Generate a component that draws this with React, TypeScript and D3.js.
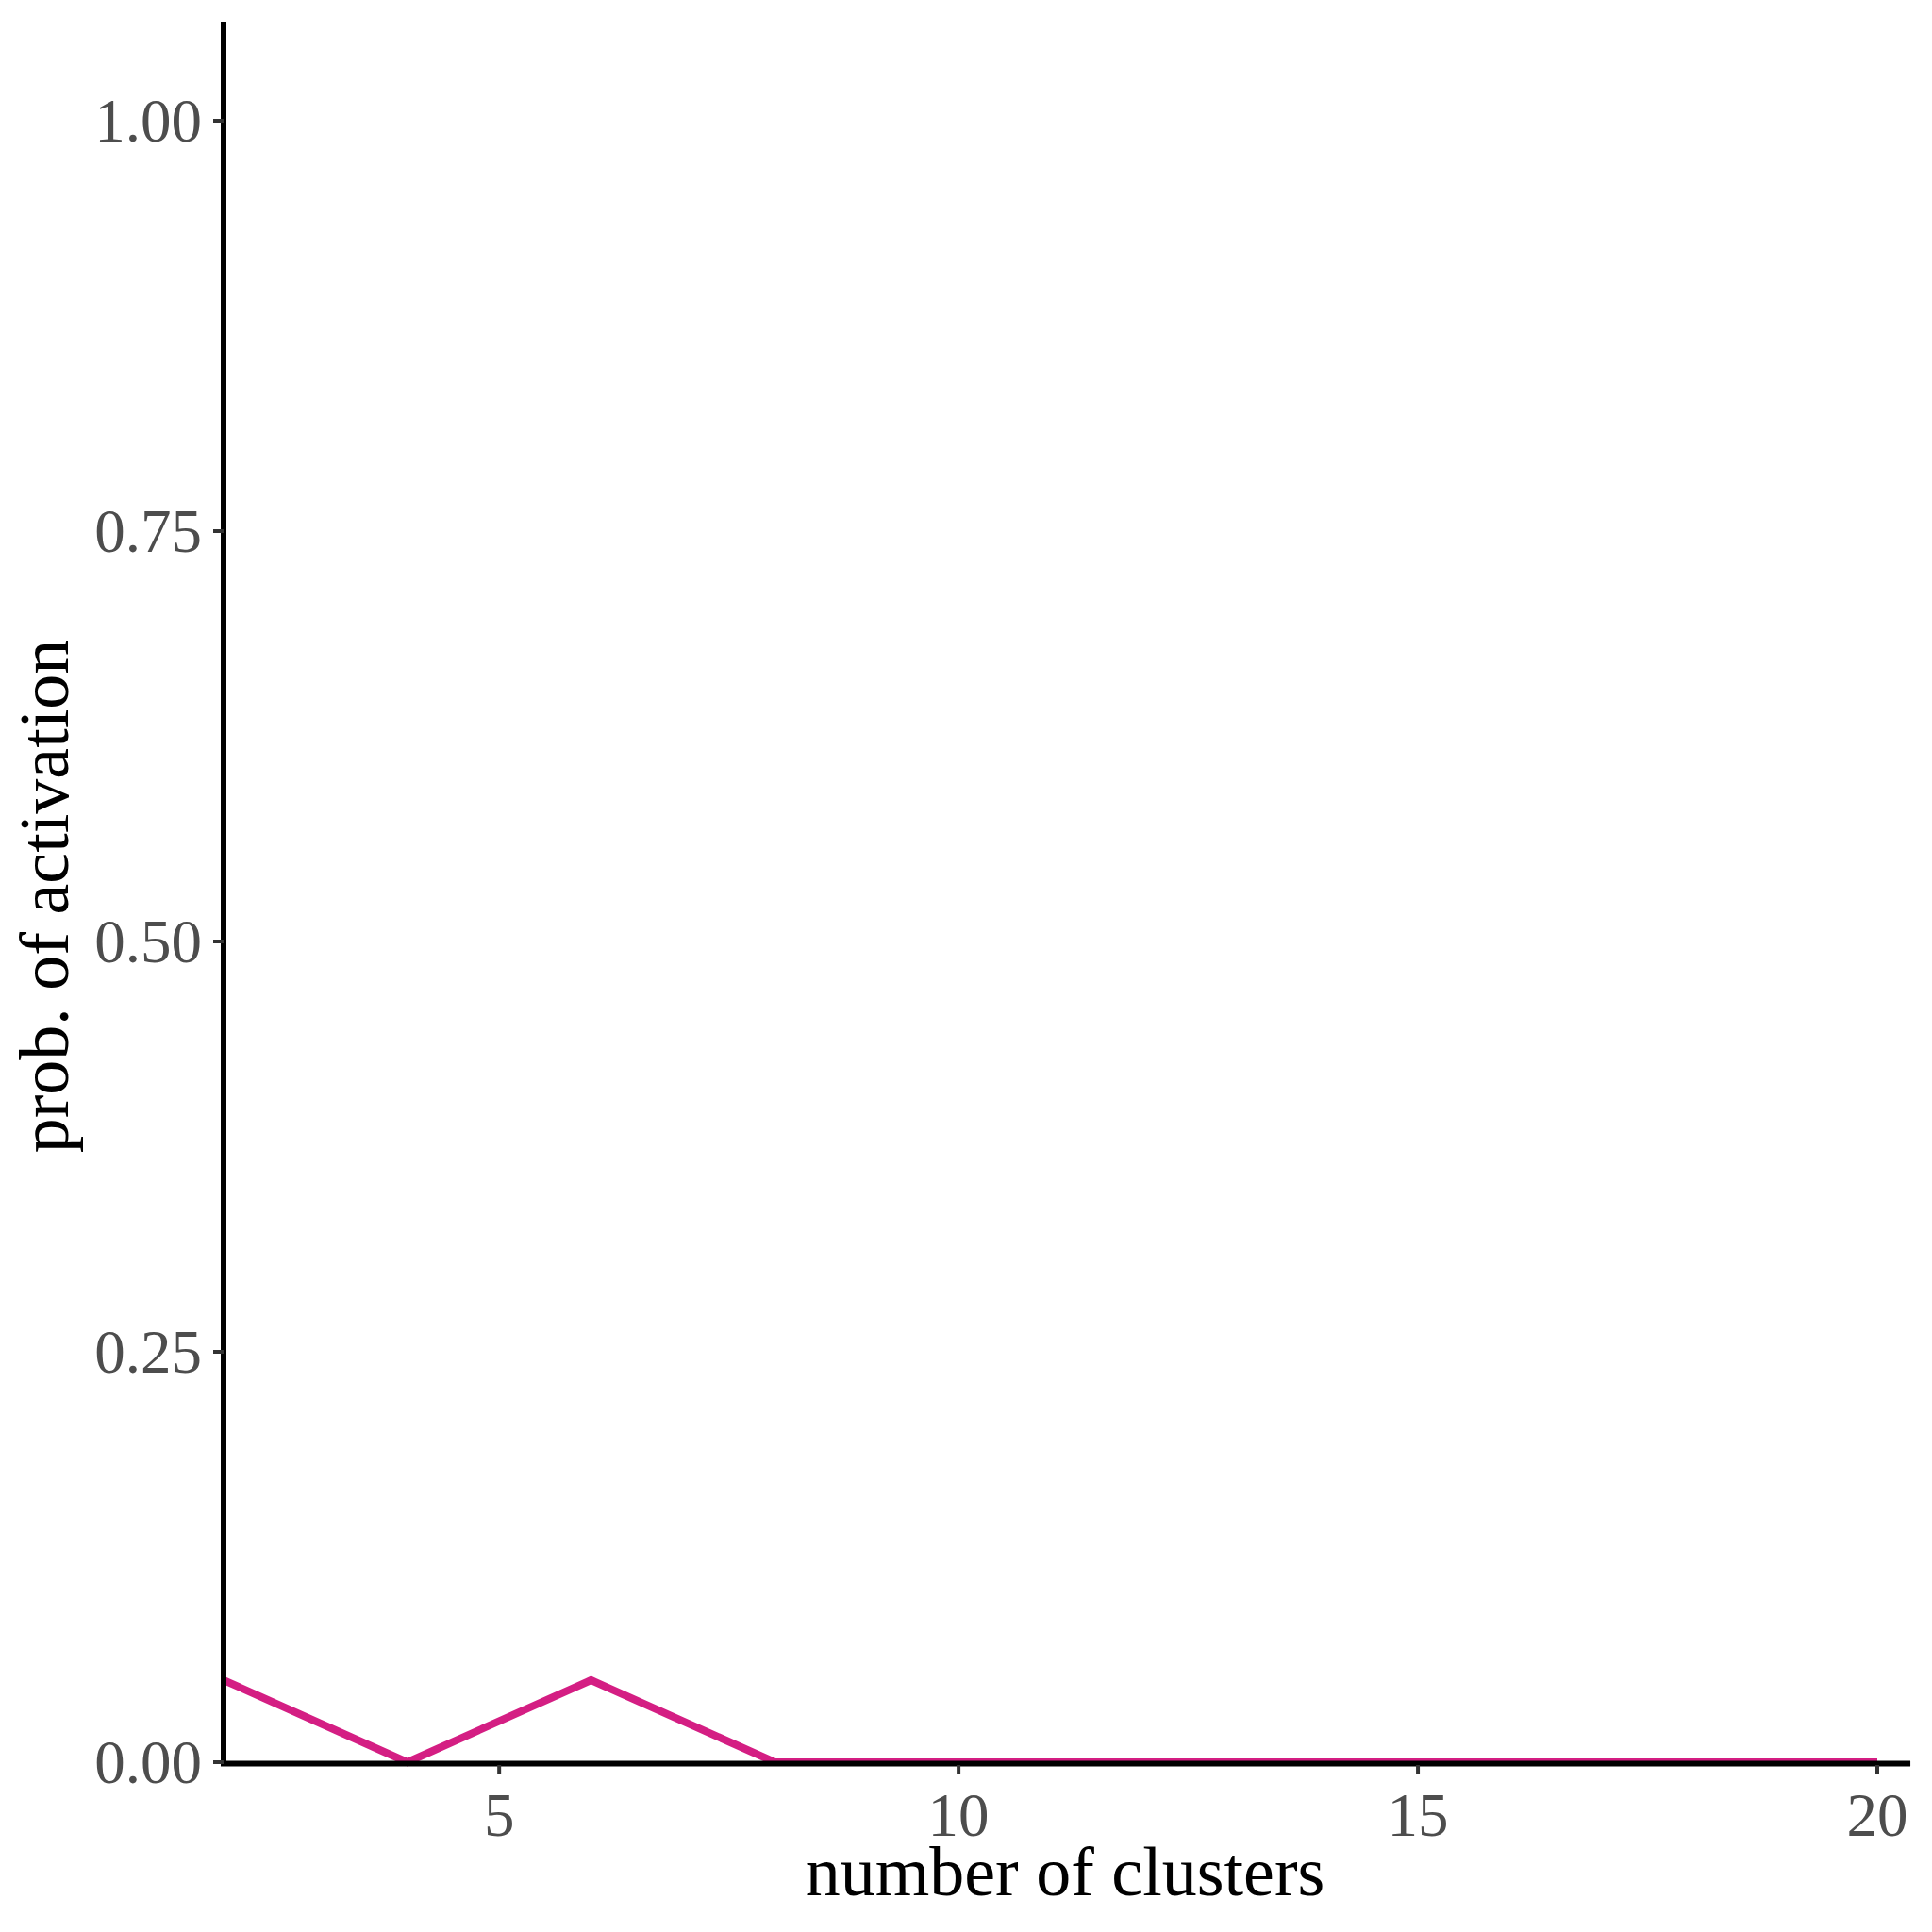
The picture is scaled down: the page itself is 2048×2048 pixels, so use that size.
import React from "react";
import * as d3 from "d3";

const clusters = [2, 4, 6, 8, 10, 12, 14, 16, 18, 20];
const probActivation = [0.05, 0, 0.05, 0, 0, 0, 0, 0, 0, 0];
const xTicks = [5, 10, 15, 20];
const yTicks = [0, 0.25, 0.5, 0.75, 1.0];
const xTitle = "number of clusters";
const yTitle = "prob. of activation";

const W = 2048;
const H = 2048;

export default function App() {
  const x = d3.scaleLinear().domain([2, 20]).range([237, 1990]);
  const y = d3.scaleLinear().domain([0, 1]).range([1868, 128]);
  const panelLeft = x(2);
  const panelRight = x(20.36);
  const panelTop = y(1.0603);
  const panelBottom = y(0);

  const line = d3
    .line<number>()
    .x((_, i) => x(clusters[i]))
    .y((d) => y(d));

  const font = "'Liberation Serif', 'Times New Roman', serif";

  return (
    <svg
      width={W}
      height={H}
      style={{ position: "absolute", left: 0, top: 0, background: "#fff" }}
      fontFamily={font}
    >
      <rect x={0} y={0} width={W} height={H} fill="#fff" />
      <path
        d={line(probActivation) || ""}
        fill="none"
        stroke="#D41E83"
        strokeWidth={8}
        strokeLinejoin="miter"
      />
      {/* axes lines */}
      <line x1={panelLeft} x2={panelLeft} y1={panelTop} y2={panelBottom + 4} stroke="#000" strokeWidth={6} />
      <line x1={panelLeft - 3} x2={panelRight} y1={panelBottom + 1.5} y2={panelBottom + 1.5} stroke="#000" strokeWidth={6} />
      {/* y ticks */}
      {yTicks.map((t) => (
        <g key={"y" + t}>
          <line x1={panelLeft - 11} x2={panelLeft} y1={y(t)} y2={y(t)} stroke="#333" strokeWidth={4} />
          <text x={214} y={y(t) + 22} textAnchor="end" fontSize={65} fill="#4D4D4D">
            {t.toFixed(2)}
          </text>
        </g>
      ))}
      {/* x ticks */}
      {xTicks.map((t) => (
        <g key={"x" + t}>
          <line x1={x(t)} x2={x(t)} y1={panelBottom + 3} y2={panelBottom + 13} stroke="#333" strokeWidth={4} />
          <text x={x(t)} y={1946} textAnchor="middle" fontSize={65} fill="#4D4D4D">
            {t}
          </text>
        </g>
      ))}
      <text x={1129} y={2009} textAnchor="middle" fontSize={74} fill="#000">
        {xTitle}
      </text>
      <text
        transform={`translate(72, 950) rotate(-90)`}
        textAnchor="middle"
        fontSize={74}
        fill="#000"
      >
        {yTitle}
      </text>
    </svg>
  );
}
